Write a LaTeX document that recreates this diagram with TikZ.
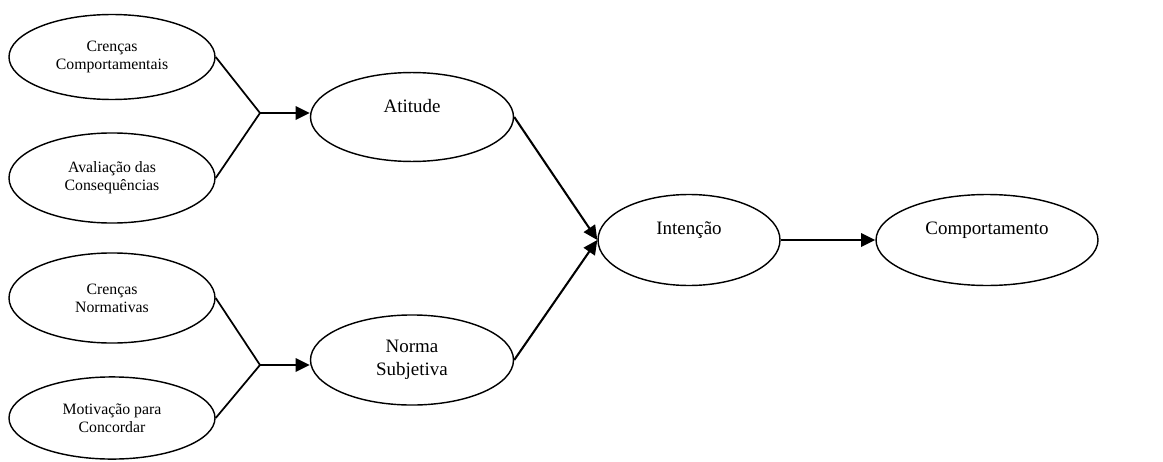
\documentclass[tikz,border=0pt]{standalone}
\usepackage{fontspec}
\setmainfont{Liberation Serif}
\usetikzlibrary{arrows.meta, shapes.geometric}

\begin{document}
\begin{tikzpicture}[
    x=0.633pt, y=-0.633pt,
    oval/.style={
        ellipse,
        draw,
        line width=0.9pt,
        inner sep=0pt,
        align=center,
        minimum width=128.5pt,
        minimum height=56.3pt,
        font=\fontsize{12}{14.5}\selectfont
    },
    smalloval/.style={
        oval,
        minimum width=130.4pt,
        font=\fontsize{10}{11.5}\selectfont
    },
    link/.style={line width=1.1pt},
    arrow/.style={-{Triangle[length=9pt, width=8.5pt]}, line width=1.3pt}
]
\useasboundingbox (0,0) rectangle (1163,461);

\node[smalloval, minimum height=53.8pt] (crencas) at (112,57) {Crenças\\Comportamentais};
\node[smalloval, minimum height=57pt] (avaliacao) at (112,178) {Avaliação das\\Consequências};
\node[smalloval, minimum height=57pt] (normativas) at (112,298) {Crenças\\Normativas};
\node[smalloval, minimum height=52pt] (motivacao) at (112,418) {Motivação para\\Concordar};

\coordinate (j1) at (260,113);
\coordinate (j2) at (260,365);

\node[oval] (atitude) at (412,117) {Atitude\\\mbox{}};
\node[oval, minimum height=57pt] (norma) at (412,360) {Norma\\Subjetiva};
\node[oval, minimum width=115.2pt, minimum height=57.6pt] (intencao) at (689,240) {Intenção\\\mbox{}};
\node[oval, minimum width=140.5pt, minimum height=57.6pt] (comport) at (987,240) {Comportamento\\\mbox{}};

\draw[link] (crencas.east) -- (j1);
\draw[link] (avaliacao.east) -- (j1);
\draw[link] (normativas.east) -- (j2);
\draw[link] (motivacao.east) -- (j2);

\draw[arrow] (j1) -- (j1 -| atitude.west);
\draw[arrow] (j2) -- (j2 -| norma.west);
\draw[arrow] (atitude.east) -- (intencao.west);
\draw[arrow] (norma.east) -- (intencao.west);
\draw[arrow] (intencao.east) -- (comport.west);

\end{tikzpicture}
\end{document}
